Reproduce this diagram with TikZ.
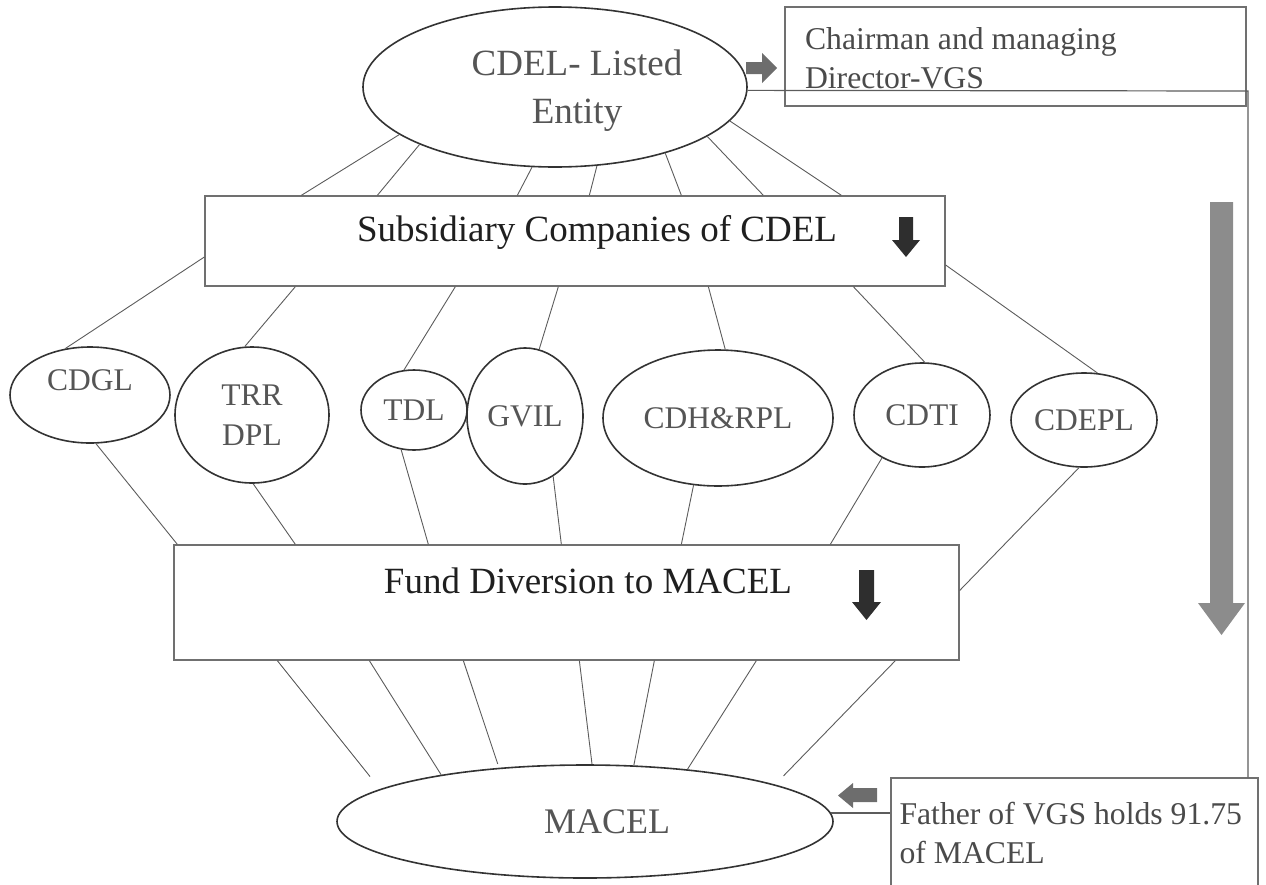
\documentclass[tikz,border=0pt]{standalone}
\usepackage{fontspec}
\setmainfont{Liberation Serif}
\usetikzlibrary{shapes.geometric}

\definecolor{ovalgrey}{HTML}{333333}
\definecolor{boxgrey}{HTML}{707070}
\definecolor{linkgrey}{HTML}{5C5C5C}
\definecolor{labelgrey}{HTML}{555555}
\definecolor{notegrey}{HTML}{4A4A4A}
\definecolor{pointergrey}{HTML}{6D6D6D}
\definecolor{pointerdark}{HTML}{2E2E2E}
\definecolor{pointerbig}{HTML}{8C8C8C}

\begin{document}
\begin{tikzpicture}[%
        x = 1pt,
        y = -1pt,
        oval/.style = {ellipse, draw = ovalgrey, line width = 1.6pt, inner sep = 0pt,
            text = labelgrey, align = center, font = \fontsize{31.5}{40}\selectfont},
        box/.style = {rectangle, draw = boxgrey, line width = 1.3pt, inner sep = 0pt},
        bigtext/.style = {font = \fontsize{37}{48}\selectfont, text = black!88},
        notetext/.style = {font = \fontsize{31.7}{39}\selectfont, text = notegrey, align = flush left},
        link/.style = {draw = linkgrey, line width = 0.9pt},
        pointer/.style = {fill = pointergrey},
        darkpointer/.style = {fill = pointerdark}
    ]

        \useasboundingbox (0,0) rectangle (1266,884);

        % listed entity and the chairman
        \node[oval, minimum width = 384pt, minimum height = 160pt,
            label = {[bigtext, text = labelgrey, align = center, xshift = 22pt, yshift = -4pt]center:CDEL- Listed\\Entity}]
            (cdel) at (555,87) {};
        \node[box, notetext, minimum width = 461pt, minimum height = 99pt,
            text width = 421pt, inner xsep = 20pt, text depth = 37pt] (chair) at (1015.5,56.5)
            {Chairman and managing\\Director-VGS};

        % the two layers of boxes
        \node[box, minimum width = 740pt, minimum height = 90pt,
            label = {[bigtext, xshift = 22pt, yshift = 9pt]center:Subsidiary Companies of CDEL}]
            (sub) at (575,241) {};
        \node[box, minimum width = 785pt, minimum height = 115pt,
            label = {[bigtext, xshift = 21.5pt, yshift = 22pt]center:Fund Diversion to MACEL}]
            (fund) at (566.5,602.5) {};

        % subsidiary companies
        \node[oval, minimum width = 160pt, minimum height = 96pt, text depth = 30pt] (cdgl) at (90,395) {CDGL};
        \node[oval, minimum width = 154pt, minimum height = 136pt] (trr) at (252,415) {TRR\\DPL};
        \node[oval, minimum width = 106pt, minimum height = 80pt] (tdl) at (414,410) {TDL};
        \node[oval, minimum width = 116pt, minimum height = 136pt] (gvil) at (525,416) {GVIL};
        \node[oval, minimum width = 230pt, minimum height = 136pt] (cdh) at (718,418) {CDH\&RPL};
        \node[oval, minimum width = 136pt, minimum height = 104pt] (cdti) at (922,415) {CDTI};
        \node[oval, minimum width = 146pt, minimum height = 94pt] (cdepl) at (1084,420) {CDEPL};

        % receiving company and the father's holding
        \node[oval, minimum width = 496pt, minimum height = 113pt,
            label = {[font = \fontsize{36}{44}\selectfont, text = labelgrey, xshift = 22pt]center:MACEL}]
            (macel) at (585,821.5) {};
        \node[box, notetext, minimum width = 367pt, minimum height = 110pt,
            text width = 350pt, inner xsep = 8.5pt] (father) at (1074.5,833)
            {Father of VGS holds 91.75\\of MACEL};

        % entity to subsidiaries box
        \foreach \a/\off in {197/97, 203/173, 254/313, 298/385, 329/477, 342/559, 349/637}
            \draw[link] (cdel.\a) -- ([xshift = \off pt]sub.north west);

        % subsidiaries box to each company
        \draw[link] ([yshift = -16pt]sub.west) -- (cdgl.118);
        \foreach \n/\a/\off in {trr/96/91, tdl/104/251, gvil/78/354, cdh/84/504, cdti/87/649}
            \draw[link] ([xshift = \off pt]sub.south west) -- (\n.\a);
        \draw[link] ([yshift = -24pt]sub.east) -- (cdepl.74);

        % each company to the diversion box
        \foreach \n/\a/\off in {cdgl/277/4, trr/271/122, tdl/252/255, gvil/295/388, cdh/250/508, cdti/227/657}
            \draw[link] (\n.\a) -- ([xshift = \off pt]fund.north west);
        \draw[link] (cdepl.264) -- ([yshift = 12pt]fund.east);

        % diversion box to MACEL
        \foreach \off/\a/\gap in {104/171/16, 196/162/0, 290/148/4, 406/83/0, 481/49/0, 583/27/0, 722/11/12}
            \draw[link, shorten > = \gap pt] ([xshift = \off pt]fund.south west) -- (macel.\a);

        % ownership line on the right
        \coordinate (turn) at (1248,91);
        \draw[link, line width = 1.2pt] (cdel.359) -- (turn) -- (turn |- father.north);
        \draw[link, line width = 1.2pt] (macel.2) -- (macel.2 -| father.west);

        % block arrows
        \fill[pointer] (746,62) -- (762,62) -- (762,53) -- (777,68) -- (762,83) -- (762,74) -- (746,74) -- cycle;
        \fill[darkpointer] (899,217) -- (913,217) -- (913,240) -- (920,240) -- (906,257) -- (892,240) -- (899,240) -- cycle;
        \fill[darkpointer] (859,570) -- (874,570) -- (874,602) -- (881,602) -- (866.5,620) -- (852,602) -- (859,602) -- cycle;
        \fill[pointer] (877,788) -- (853,788) -- (853,783) -- (838,795.5) -- (853,808) -- (853,802) -- (877,802) -- cycle;
        \fill[fill = pointerbig] (1210,202) -- (1233,202) -- (1233,603) -- (1245,603) -- (1221.5,635) -- (1198,603) -- (1210,603) -- cycle;
    \end{tikzpicture}
\end{document}
